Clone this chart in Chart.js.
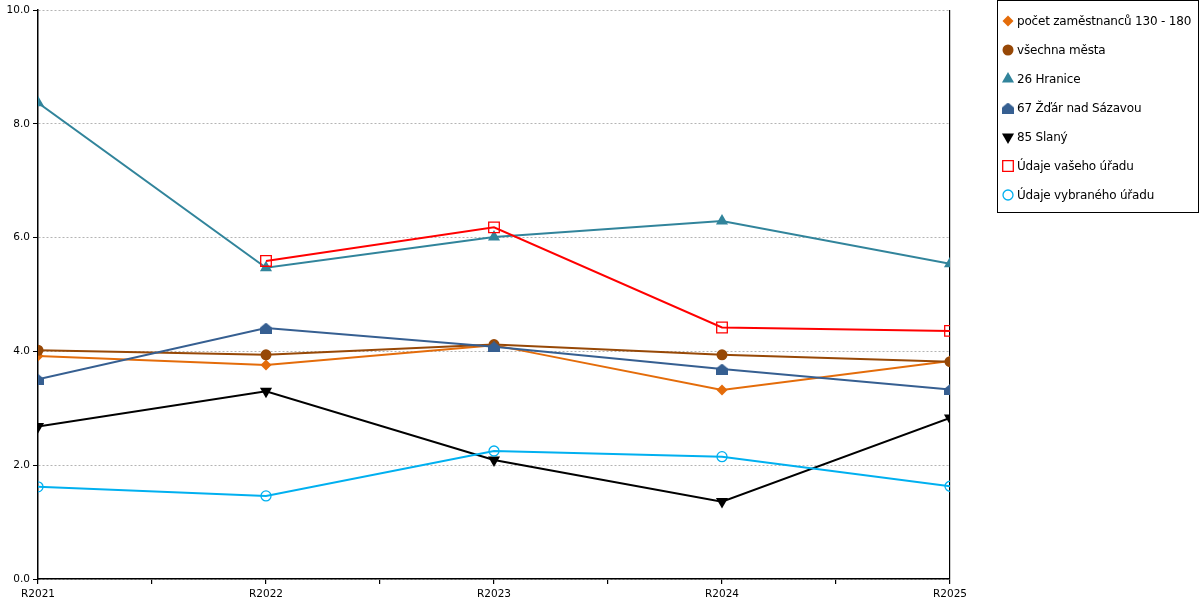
<!DOCTYPE html>
<html>
<head>
<meta charset="utf-8">
<script src="https://cdn.jsdelivr.net/npm/chart.js@4"></script>
<style>
  body { margin: 0; background: #fff; }
  #wrap { position: relative; width: 1200px; height: 600px; }
  #legend { position: absolute; left: 997px; top: 0; width: 200px; height: 211px;
    border: 1px solid #000; font-family: "DejaVu Sans", sans-serif; font-size: 12px;
    letter-spacing: -0.2px; color: #000; }
  .item { position: absolute; left: 0; height: 16px; line-height: 16px; white-space: nowrap; }
  .item canvas { position: absolute; left: 3px; top: 0; }
  .item span { position: absolute; left: 19px; top: 0; }
</style>
</head>
<body>
<div id="wrap">
  <canvas id="myChart" width="1200" height="600"></canvas>
  <div id="legend"></div>
</div>
<script>
// categories and values
var years = ["R2021", "R2022", "R2023", "R2024", "R2025"];
var pocetZam = [3.92, 3.76, 4.11, 3.32, 3.83];
var vsechnaMesta = [4.02, 3.94, 4.12, 3.94, 3.82];
var hranice = [8.37, 5.47, 6.01, 6.29, 5.54];
var zdar = [3.51, 4.41, 4.08, 3.69, 3.33];
var slany = [2.68, 3.30, 2.09, 1.36, 2.83];
var vasUrad = [null, 5.59, 6.18, 4.42, 4.36];
var vybranyUrad = [1.62, 1.46, 2.25, 2.15, 1.63];
var yTicks = [0, 2, 4, 6, 8, 10];

// little house marker for Zdar
function houseImage(color, w, h) {
  var c = document.createElement('canvas');
  c.width = w; c.height = h;
  var g = c.getContext('2d');
  g.fillStyle = color;
  g.beginPath();
  g.moveTo(w / 2, 0);
  g.lineTo(w, h * 0.45);
  g.lineTo(w, h);
  g.lineTo(0, h);
  g.lineTo(0, h * 0.45);
  g.closePath();
  g.fill();
  return c;
}
var house = houseImage('#365F91', 12, 11);

function pts(arr) {
  return arr.map(function (v, i) { return { x: i, y: v }; });
}

var series = [
  { label: 'počet zaměstnanců 130 - 180', data: pocetZam, color: '#E46C0A', style: 'rectRot', r: 5.5, fill: true },
  { label: 'všechna města', data: vsechnaMesta, color: '#974806', style: 'circle', r: 5.5, fill: true },
  { label: '26 Hranice', data: hranice, color: '#31849B', style: 'triangle', r: 7, fill: true },
  { label: '67 Žďár nad Sázavou', data: zdar, color: '#365F91', style: house, r: 5, fill: true },
  { label: '85 Slaný', data: slany, color: '#000000', style: 'triangle', r: 7, fill: true, rot: 180 },
  { label: 'Údaje vašeho úřadu', data: vasUrad, color: '#FF0000', style: 'rect', r: 7.5, fill: false },
  { label: 'Údaje vybraného úřadu', data: vybranyUrad, color: '#00B0F0', style: 'circle', r: 5, fill: false }
];

var datasets = series.map(function (s) {
  return {
    label: s.label,
    data: pts(s.data),
    borderColor: s.color,
    backgroundColor: s.fill ? s.color : 'rgba(255,255,255,0)',
    pointStyle: s.style,
    pointRadius: s.r,
    pointHoverRadius: s.r,
    pointRotation: s.rot || 0,
    pointBorderWidth: s.fill ? 0 : 1.3,
    borderWidth: 2,
    tension: 0
  };
});
// draw in reverse so first series sits on top like the original
datasets.reverse();

Chart.defaults.font.family = '"DejaVu Sans", sans-serif';
Chart.defaults.color = '#000';

var myChart = new Chart(document.getElementById('myChart').getContext('2d'), {
  type: 'line',
  data: { datasets: datasets },
  options: {
    responsive: false,
    animation: false,
    layout: { padding: { left: 0, top: 10, right: 250, bottom: 0 } },
    plugins: { legend: { display: false }, tooltip: { enabled: false } },
    scales: {
      x: {
        type: 'linear',
        min: 0,
        max: years.length - 1,
        afterBuildTicks: function (axis) {
          var t = [];
          for (var v = 0; v <= years.length - 1; v += 0.5) t.push({ value: v });
          axis.ticks = t;
        },
        afterFit: function (axis) { axis.height = 21; },
        ticks: {
          autoSkip: false,
          maxRotation: 0,
          padding: 4,
          font: { size: 10.5 },
          callback: function (v) { return Number.isInteger(v) ? years[v] : ''; }
        },
        grid: {
          drawOnChartArea: true,
          color: function (ctx) { return ctx.tick && ctx.tick.value === years.length - 1 ? '#000' : 'rgba(0,0,0,0)'; },
          tickColor: '#000',
          tickLength: 5,
          lineWidth: 1.2
        },
        border: { color: '#000', width: 1.5 }
      },
      y: {
        min: 0,
        max: 10,
        afterBuildTicks: function (axis) {
          axis.ticks = yTicks.map(function (v) { return { value: v }; });
        },
        afterFit: function (axis) { axis.width = 38; },
        ticks: {
          padding: 3,
          font: { size: 10.5 },
          callback: function (v) { return v.toFixed(1); }
        },
        grid: {
          color: '#b4b4b4',
          tickColor: '#000',
          tickLength: 5,
          tickBorderDash: [1, 0],
          lineWidth: 1
        },
        border: { color: '#000', width: 1.5, dash: [2, 2] }
      }
    }
  }
});

// html legend with the same markers
var legend = document.getElementById('legend');
series.forEach(function (s, i) {
  var div = document.createElement('div');
  div.className = 'item';
  div.style.top = (12 + i * 29) + 'px';
  var c = document.createElement('canvas');
  c.width = 15; c.height = 16;
  var g = c.getContext('2d');
  g.fillStyle = s.fill ? s.color : '#fff';
  g.strokeStyle = s.color;
  g.lineWidth = 1.3;
  Chart.helpers.drawPoint(g, {
    pointStyle: s.style,
    radius: s.r,
    rotation: s.rot || 0,
    borderWidth: s.fill ? 0 : 1.3
  }, 7, 8);
  var sp = document.createElement('span');
  sp.textContent = s.label;
  div.appendChild(c);
  div.appendChild(sp);
  legend.appendChild(div);
});
</script>
</body>
</html>
